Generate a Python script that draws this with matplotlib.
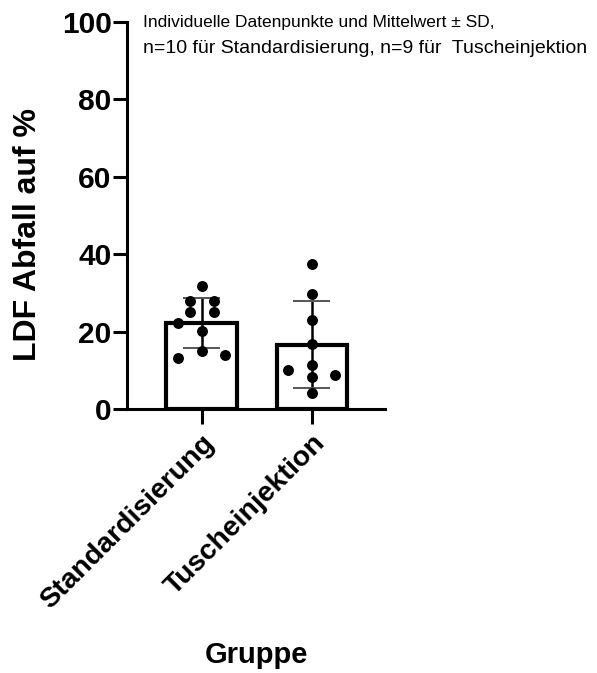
import numpy as np
import matplotlib.pyplot as plt

plt.rcParams['font.family'] = ['Liberation Sans', 'DejaVu Sans']

groups = ['Standardisierung', 'Tuscheinjektion']
standard_vals = [31.9, 27.9, 27.9, 25.1, 25.1, 22.1, 20.2, 15.0, 13.1, 13.9]
tusche_vals = [37.4, 29.8, 23.1, 16.8, 11.3, 10.2, 8.8, 8.3, 4.2]
yticks = [0, 20, 40, 60, 80, 100]
note_lines = ['Individuelle Datenpunkte und Mittelwert \u00b1 SD,',
              'n=10 f\u00fcr Standardisierung, n=9 f\u00fcr  Tuscheinjektion']

# horizontal spread of the dots (swarm layout)
standard_off = [0, -0.106, 0.115, -0.106, 0.115, -0.212, 0, 0, -0.212, 0.212]
tusche_off = [0, 0, 0, 0, 0, -0.212, 0.212, 0, 0]

all_vals = [standard_vals, tusche_vals]
all_off = [standard_off, tusche_off]
means = [np.mean(v) for v in all_vals]
sds = [np.std(v, ddof=1) for v in all_vals]

fig = plt.figure(figsize=(5.97, 6.73), dpi=100)
ax = fig.add_axes([0.2127, 0.3923, 0.4322, 0.575])

x = np.arange(len(groups))
ax.bar(x, means, width=0.64, color='white', edgecolor='black', linewidth=3, zorder=1)
ax.errorbar(x, means, yerr=sds, fmt='none', ecolor='black', elinewidth=1.8,
            capsize=0, zorder=2)
# caps drawn separately (they look thinner/greyer than the bar)
for xi, m, s in zip(x, means, sds):
    ax.hlines([m - s, m + s], xi - 0.17, xi + 0.17, color='#555555', lw=1.4, zorder=2)
for xi, vals, off in zip(x, all_vals, all_off):
    ax.scatter(xi + np.array(off), vals, s=62, color='black', zorder=3, linewidths=0)

ax.set_xlim(-0.679, 1.666)
ax.set_ylim(0, 100)
ax.set_yticks(yticks)
ax.set_xticks(x)
ax.set_xticklabels(groups, rotation=45, ha='right', rotation_mode='anchor',
                   fontsize=20.5, fontweight='bold')
for lab in ax.get_yticklabels():
    lab.set_fontsize(21.5)
    lab.set_fontweight('bold')
for s in ['top', 'right']:
    ax.spines[s].set_visible(False)
for s in ['left', 'bottom']:
    ax.spines[s].set_linewidth(2.2)
ax.tick_params(axis='y', length=10, width=2.2, pad=1)
ax.tick_params(axis='x', length=11, width=2.2, pad=4)

fig.text(0.047, 0.651, 'LDF Abfall auf %', rotation=90, ha='center', va='center',
         fontsize=23, fontweight='bold')
fig.text(0.430, 0.027, 'Gruppe', ha='center', va='center', fontsize=21, fontweight='bold')
fig.text(0.2395, 0.978, note_lines[0], ha='left', va='top', fontsize=12.5)
fig.text(0.2395, 0.941, note_lines[1], ha='left', va='top', fontsize=14)

fig.savefig('out.png', dpi=100)
